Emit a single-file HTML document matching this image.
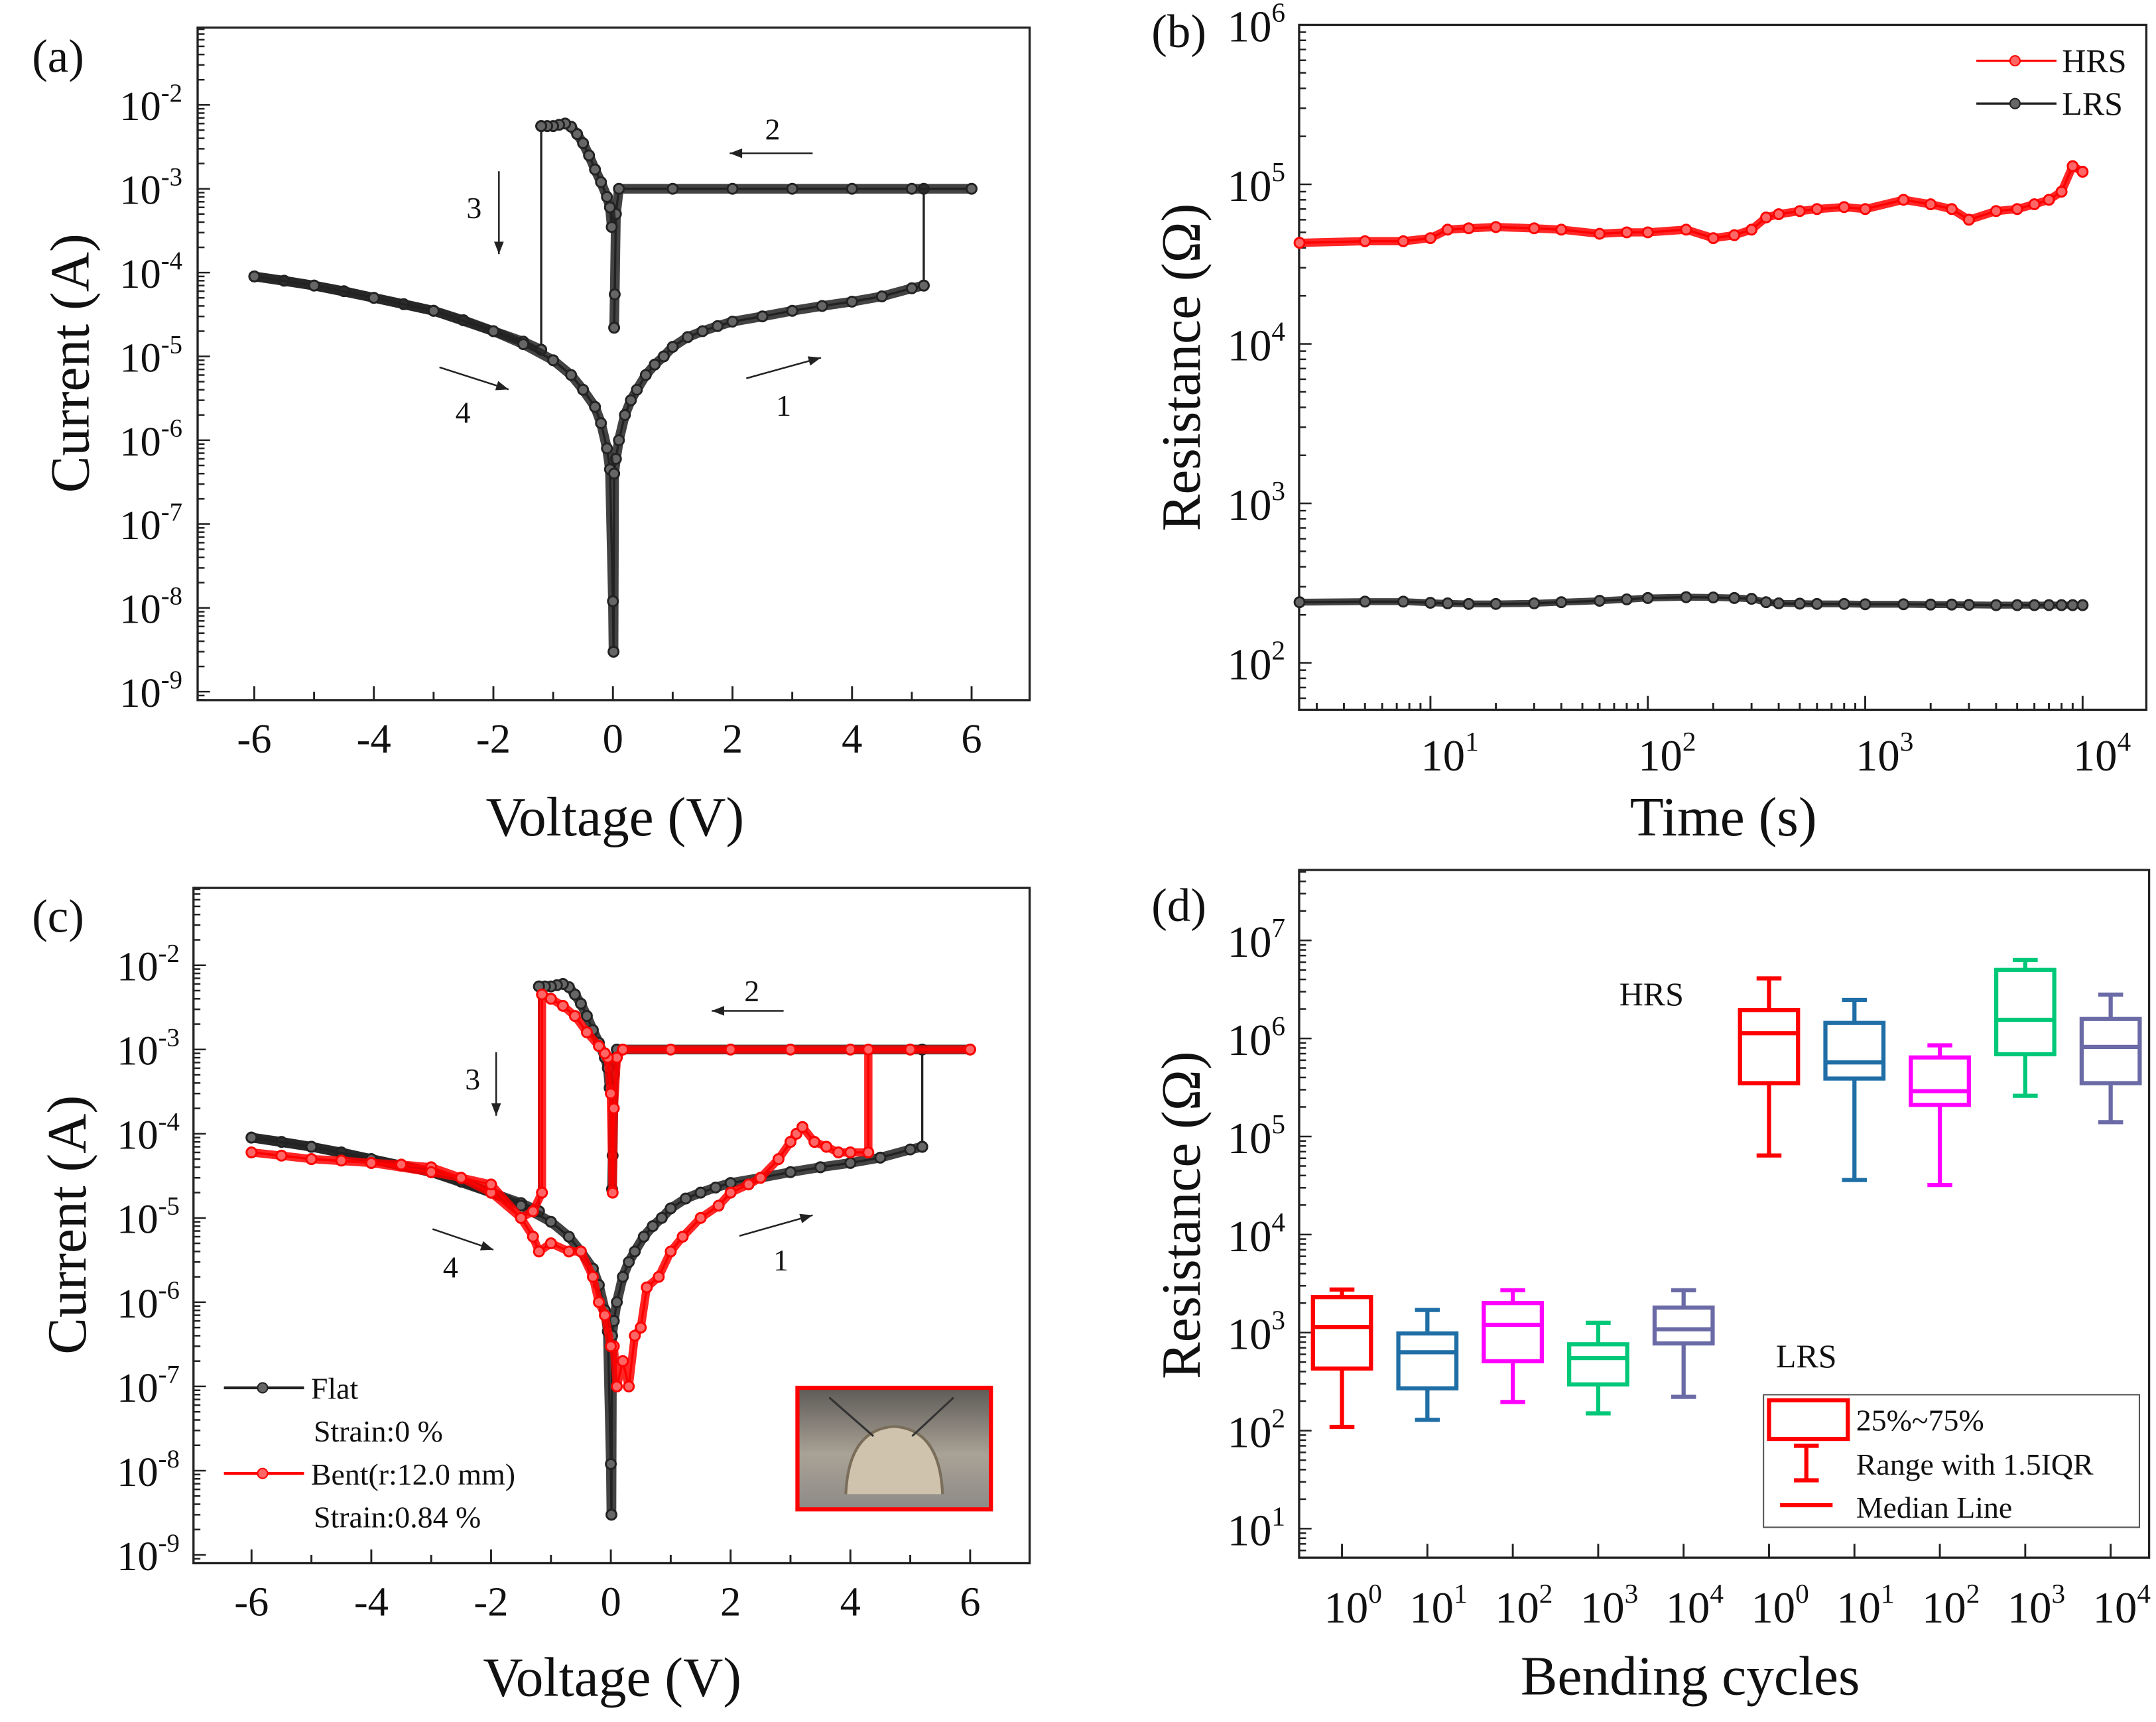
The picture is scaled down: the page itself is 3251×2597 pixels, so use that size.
<!DOCTYPE html>
<html><head><meta charset="utf-8"><style>
html,body{margin:0;padding:0;background:#fff}
svg{display:block}
text{font-family:"Liberation Serif",serif;fill:#111}
</style></head><body>
<svg id="fig" width="3251" height="2597" viewBox="0 0 1560 1247" preserveAspectRatio="none" xmlns="http://www.w3.org/2000/svg">
<rect width="1560" height="1247" fill="#fff"/>
</svg>
<script>
// ---------- Panel (a) data ----------
const aSweep1V=[0.02,0.05,0.1,0.2,0.3,0.4,0.55,0.7,0.85,1,1.25,1.5,1.75,2,2.5,3,3.5,4,4.5,5,5.2];
const aSweep1I=[4e-7,6e-7,1e-6,2e-6,3e-6,4e-6,6e-6,8e-6,1e-5,1.3e-5,1.7e-5,2e-5,2.3e-5,2.6e-5,3e-5,3.5e-5,4e-5,4.5e-5,5.2e-5,6.5e-5,7e-5];
const aSweep2V=[6,5,4,3,2,1,0.1,0.05,0.03,0.02];
const aSweep2I=[1e-3,1e-3,1e-3,1e-3,1e-3,1e-3,1e-3,5e-4,5.5e-5,2.2e-5];
const aNegV=[-0.02,-0.05,-0.1,-0.2,-0.3,-0.4,-0.5,-0.6,-0.7,-0.8,-0.9,-1.0,-1.1,-1.2];
const aNegI=[3.5e-4,6e-4,8e-4,1.2e-3,1.7e-3,2.5e-3,3.5e-3,4.5e-3,5.5e-3,6e-3,5.8e-3,5.6e-3,5.6e-3,5.6e-3];
const aSweep3V=[-1.2,-1.5,-2,-2.5,-3,-3.5,-4,-4.5,-5,-5.5,-6];
const aSweep3I=[1.2e-5,1.5e-5,2e-5,2.7e-5,3.5e-5,4.2e-5,5e-5,6e-5,7e-5,8e-5,9e-5];
const aSweep4V=[-6,-5,-4,-3,-2,-1.5,-1,-0.7,-0.5,-0.3,-0.2,-0.1,-0.05,0,0.01,0.02];
const aSweep4I=[9e-5,7e-5,5e-5,3.5e-5,2e-5,1.4e-5,9e-6,6e-6,4e-6,2.5e-6,1.6e-6,8e-7,4.5e-7,1.2e-8,3e-9,4e-7];
// ---------- Panel (b) data ----------
const bTimes=[2.5,5,7.5,10,12,15,20,30,40,60,80,100,150,200,250,300,350,400,500,600,800,1000,1500,2000,2500,3000,4000,5000,6000,7000,8000,9000,10000];
const bHRS=[4.3e4,4.4e4,4.4e4,4.6e4,5.2e4,5.3e4,5.4e4,5.3e4,5.2e4,4.9e4,5e4,5e4,5.2e4,4.6e4,4.8e4,5.2e4,6.2e4,6.5e4,6.8e4,7e4,7.2e4,7e4,8e4,7.5e4,7e4,6e4,6.8e4,7e4,7.5e4,8e4,9e4,1.3e5,1.2e5];
const bLRS=[240,242,242,238,236,234,234,236,240,245,250,255,258,257,255,252,240,236,235,234,234,233,233,232,232,231,230,230,230,230,230,230,230];
const bYTicks=[2,3,4,5,6];
const bXTicks=[1,2,3,4];
// ---------- Panel (c) data ----------
const cBentV=[0.05,0.1,0.2,0.3,0.4,0.5,0.6,0.8,1,1.2,1.5,1.8,2,2.3,2.5,2.8,3,3.1,3.2,3.4,3.6,3.8,4,4.3,4.3,5,6,5,4,3,2,1,0.2,0.1,0.05,0.03,0.0,-0.05,-0.1,-0.2,-0.4,-0.6,-0.8,-1,-1.15,-1.15,-1.3,-1.5,-2,-2.5,-3,-3.5,-4,-4.5,-5,-5.5,-6,-5,-4,-3,-2.5,-2,-1.5,-1.3,-1.2,-1,-0.7,-0.5,-0.3,-0.2,-0.1,0];
const cBentI=[3e-7,1e-7,2e-7,1e-7,4e-7,5e-7,1.5e-6,2e-6,4e-6,6e-6,1e-5,1.4e-5,2e-5,2.5e-5,3e-5,5e-5,8e-5,1e-4,1.2e-4,8e-5,7e-5,6e-5,6e-5,6e-5,1e-3,1e-3,1e-3,1e-3,1e-3,1e-3,1e-3,1e-3,1e-3,8e-4,2e-4,2e-5,3e-4,8e-4,9e-4,1.1e-3,1.6e-3,2.5e-3,3.3e-3,4e-3,4.5e-3,2e-5,1.2e-5,1e-5,2e-5,3e-5,4e-5,4.3e-5,4.5e-5,4.8e-5,5e-5,5.5e-5,6e-5,5e-5,4.5e-5,3.5e-5,3e-5,2.5e-5,1e-5,6e-6,4e-6,5e-6,4e-6,4e-6,2e-6,1e-6,7e-7,3e-7];
// ---------- Panel (d) data ----------
const dCategories=["0","1","2","3","4","0","1","2","3","4"];
const dWhiskLow=[109,129,196,150,221,6.4e4,3.6e4,3.2e4,2.6e5,1.4e5];
const dQ1=[430,270,510,296,775,3.5e5,3.9e5,2.1e5,6.9e5,3.5e5];
const dMedian=[1140,630,1200,550,1080,1.13e6,5.7e5,2.9e5,1.55e6,8.2e5];
const dQ3=[2300,980,2000,760,1800,1.95e6,1.44e6,6.4e5,5e6,1.58e6];
const dWhiskHigh=[2750,1700,2700,1260,2700,4.1e6,2.47e6,8.5e5,6.3e6,2.8e6];
const dColors=["#ff0000","#1f6ea6","#ff00ff","#00c878","#6a6aa6","#ff0000","#1f6ea6","#ff00ff","#00c878","#6a6aa6"];
const dYTicks=[1,2,3,4,5,6,7];

// ---------- axis functions ----------
const xa=v=>184+(v+6)*43.25, ya=I=>76+(-2-Math.log10(I))*60.7;
const xb=t=>1035+(Math.log10(t)-1)*157.3, yb=R=>480-(Math.log10(R)-2)*115.5;
const xc=v=>182+(v+6)*43.33, yc=I=>699+(-2-Math.log10(I))*61;
const xd=i=>971+i*61.8, yd=R=>1107-(Math.log10(R)-1)*71;

const NS="http://www.w3.org/2000/svg";
const svg=document.getElementById('fig');
function mk(tag,attrs,parent){const e=document.createElementNS(NS,tag);for(const k in attrs)e.setAttribute(k,attrs[k]);(parent||svg).appendChild(e);return e;}
function txt(x,y,s,size,anchor,parent){const t=mk('text',{x:x,y:y,'font-size':size,'text-anchor':anchor||'middle'},parent);t.textContent=s;return t;}
function pow(x,y,base,exp,size,parent,anchor){
  const t=mk('text',{x:x,y:y,'font-size':size,'text-anchor':anchor||'end'},parent);
  const a=mk('tspan',{},t);a.textContent=base;
  const b=mk('tspan',{dy:-size*0.45,'font-size':size*0.62},t);b.textContent=exp;
  return t;
}
function frame(x0,y0,x1,y1,name){
  const r=mk('rect',{x:x0,y:y0,width:x1-x0,height:y1-y0,fill:'none',stroke:'#222','stroke-width':1.6});
  
  
}
function line(x1,y1,x2,y2,col,w,parent){return mk('line',{x1:x1,y1:y1,x2:x2,y2:y2,stroke:col||'#222','stroke-width':w||1.4},parent);}
function arrow(x1,y1,x2,y2){
  line(x1,y1,x2,y2,'#222',1.2);
  const a=Math.atan2(y2-y1,x2-x1),L=9,W=3.5;
  mk('polygon',{points:`${x2},${y2} ${x2-L*Math.cos(a)+W*Math.sin(a)},${y2-L*Math.sin(a)-W*Math.cos(a)} ${x2-L*Math.cos(a)-W*Math.sin(a)},${y2-L*Math.sin(a)+W*Math.cos(a)}`,fill:'#222'});
}
function series(V,I,fx,fy,col,name,thick){
  const g=mk('g',{});
  
  
  const pts=V.map((v,i)=>fx(v)+','+fy(I[i])).join(' ');
  if(thick) mk('polyline',{points:pts,fill:'none',stroke:col,'stroke-width':thick,'stroke-linejoin':'round','stroke-opacity':0.85},g);
  mk('polyline',{points:pts,fill:'none',stroke:col,'stroke-width':1.6},g);
  V.forEach((v,i)=>mk('circle',{cx:fx(v),cy:fy(I[i]),r:3.6,fill:col==='#222'?'#666':'#f66',stroke:col,'stroke-width':1.4},g));
  return g;
}
function logYTicks(fy,decLo,decHi,x0,ymin,ymax){
  for(let d=decLo;d<=decHi;d++){
    for(let m=1;m<10;m++){
      const y=fy(m*Math.pow(10,d));
      if(y<ymin||y>ymax)continue;
      line(x0,y,x0+(m===1?9:5),y,'#222',1.2);
    }
  }
}
function ivLoop(fx,fy,prefix){
  series(aSweep1V,aSweep1I,fx,fy,'#222',prefix+'-sweep-1',7);
  series([5.2,5.2],[7e-5,1e-3],fx,fy,'#222',prefix+'-set-jump',0);
  series(aSweep2V,aSweep2I,fx,fy,'#222',prefix+'-sweep-2',7);
  series(aNegV,aNegI,fx,fy,'#222',prefix+'-negative-lrs',7);
  series([-1.2,-1.2],[5.6e-3,1.2e-5],fx,fy,'#222',prefix+'-reset-drop',0);
  series(aSweep3V,aSweep3I,fx,fy,'#222',prefix+'-sweep-3',7);
  series(aSweep4V,aSweep4I,fx,fy,'#222',prefix+'-sweep-4',7);
}

// ================= Panel (a) =================
frame(143,20,745,507,'panel-a-frame');
logYTicks(ya,-10,-1,143,20,507);
for(let v=-6;v<=6;v++){line(xa(v),507,xa(v),507-(v%2===0?10:6));}
for(let v=-6;v<=6;v+=2){const t=txt(xa(v),545,String(v),30);}
for(let e=-2;e>=-9;e--){const t=pow(132,ya(Math.pow(10,e))+11,'10',String(e),30);}
ivLoop(xa,ya,'a');
arrow(588,111,528,111);txt(559,101,'2',22);
arrow(361,124,361,184);txt(343,158,'3',22);
arrow(318,266,368,282);txt(335,306,'4',22);
arrow(540,274,594,259);txt(567,301,'1',22);
let t;
t=txt(42,52,'(a)',34);
t=txt(445,605,'Voltage (V)',40);
t=txt(0,0,'Current (A)',40);t.setAttribute('transform','translate(64,263) rotate(-90)');

// ================= Panel (b) =================
frame(940,18,1553,514,'panel-b-frame');
for(let d=0;d<=4;d++)for(let m=1;m<10;m++){const x=xb(m*Math.pow(10,d));if(x<940||x>1553)continue;line(x,514,x,514-(m===1?10:5));}
logYTicks(yb,1,6,940,18,514);
bXTicks.forEach(e=>{const t=pow(xb(Math.pow(10,e))+14,558,'10',String(e),32,null,'middle');});
bYTicks.forEach(e=>{if(e===6)return;const t=pow(930,yb(Math.pow(10,e))+12,'10',String(e),32);});
t=pow(930,30,'10','6',32);
series(bTimes,bHRS,xb,yb,'#ff0000','b-hrs-series',6);
series(bTimes,bLRS,xb,yb,'#222','b-lrs-series',5);
{const g=mk('g',{});
line(1430,44,1488,44,'#ff0000',1.6,g);mk('circle',{cx:1458,cy:44,r:3.6,fill:'#f66',stroke:'#f00'},g);txt(1492,52,'HRS',24,'start',g);
line(1430,75,1488,75,'#222',1.6,g);mk('circle',{cx:1458,cy:75,r:3.6,fill:'#666',stroke:'#222'},g);txt(1492,83,'LRS',24,'start',g);}
t=txt(853,34,'(b)',34);
t=txt(1247,605,'Time (s)',40);
t=txt(0,0,'Resistance (Ω)',40);t.setAttribute('transform','translate(868,266) rotate(-90)');

// ================= Panel (c) =================
frame(140,643,745,1132,'panel-c-frame');
logYTicks(yc,-10,-1,140,643,1132);
for(let v=-6;v<=6;v++){line(xc(v),1132,xc(v),1132-(v%2===0?10:6));}
for(let v=-6;v<=6;v+=2){const t=txt(xc(v),1170,String(v),30);}
for(let e=-2;e>=-9;e--){const t=pow(130,yc(Math.pow(10,e))+11,'10',String(e),30);}
ivLoop(xc,yc,'c-flat');
series(cBentV,cBentI,xc,yc,'#ff0000','c-bent-series',6);
arrow(567,732,515,732);txt(544,725,'2',22);
arrow(359,762,359,808);txt(342,789,'3',22);
arrow(313,890,357,905);txt(326,925,'4',22);
arrow(535,895,588,880);txt(565,920,'1',22);
{const g=mk('g',{});
line(162,1005,220,1005,'#222',2,g);mk('circle',{cx:190,cy:1005,r:3.6,fill:'#666',stroke:'#222'},g);txt(225,1013,'Flat',22,'start',g);txt(227,1044,'Strain:0 %',22,'start',g);
line(162,1067,220,1067,'#f00',2,g);mk('circle',{cx:190,cy:1067,r:3.6,fill:'#f66',stroke:'#f00'},g);txt(225,1075,'Bent(r:12.0 mm)',22,'start',g);txt(227,1106,'Strain:0.84 %',22,'start',g);}
{const g=mk('g',{});
const gr=mk('linearGradient',{id:'ph',x1:0,y1:0,x2:0,y2:1},mk('defs',{},g));
mk('stop',{offset:'0','stop-color':'#5d5a56'},gr);mk('stop',{offset:'0.55','stop-color':'#a9a296'},gr);mk('stop',{offset:'1','stop-color':'#8d8a86'},gr);
mk('rect',{x:577,y:1005,width:140,height:88,fill:'url(#ph)',stroke:'#f00','stroke-width':3},g);
mk('path',{d:'M612,1082 Q614,1035 647,1033 Q680,1035 682,1082',fill:'#cfc3ad',stroke:'#7a6e5a','stroke-width':2},g);
line(600,1012,632,1040,'#333',1.5,g);line(690,1012,660,1040,'#333',1.5,g);}
t=txt(42,675,'(c)',34);
t=txt(443,1228,'Voltage (V)',40);
t=txt(0,0,'Current (A)',40);t.setAttribute('transform','translate(62,887) rotate(-90)');

// ================= Panel (d) =================
frame(940,630,1555,1128,'panel-d-frame');
logYTicks(yd,0,7,940,630,1128);
dCategories.forEach((c,i)=>{line(xd(i),1128,xd(i),1118);const t=pow(xd(i)+8,1175,'10',c,32,null,'middle');});
dYTicks.forEach(e=>{const t=pow(930,yd(Math.pow(10,e))+12,'10',String(e),32);});
dCategories.forEach((c,i)=>{
  const g=mk('g',{});
  
  
  const x=xd(i),col=dColors[i],w=3;
  line(x,yd(dWhiskLow[i]),x,yd(dQ1[i]),col,w,g);
  line(x,yd(dQ3[i]),x,yd(dWhiskHigh[i]),col,w,g);
  line(x-9,yd(dWhiskLow[i]),x+9,yd(dWhiskLow[i]),col,w,g);
  line(x-9,yd(dWhiskHigh[i]),x+9,yd(dWhiskHigh[i]),col,w,g);
  mk('rect',{x:x-21,y:yd(dQ3[i]),width:42,height:yd(dQ1[i])-yd(dQ3[i]),fill:'none',stroke:col,'stroke-width':w},g);
  line(x-21,yd(dMedian[i]),x+21,yd(dMedian[i]),col,w,g);
});
t=txt(1195,728,'HRS',24);
t=txt(1307,990,'LRS',24);
{const g=mk('g',{});
mk('rect',{x:1276,y:1010,width:272,height:96,fill:'#fff',stroke:'#555','stroke-width':1},g);
mk('rect',{x:1280,y:1014,width:57,height:28,fill:'none',stroke:'#f00','stroke-width':3},g);
line(1307,1047,1307,1072,'#f00',3,g);line(1298,1047,1316,1047,'#f00',3,g);line(1298,1072,1316,1072,'#f00',3,g);
line(1288,1090,1326,1090,'#f00',3,g);
txt(1343,1036,'25%~75%',22,'start',g);txt(1343,1068,'Range with 1.5IQR',22,'start',g);txt(1343,1099,'Median Line',22,'start',g);}
t=txt(853,667,'(d)',34);
t=txt(1223,1227,'Bending cycles',40);
t=txt(0,0,'Resistance (Ω)',40);t.setAttribute('transform','translate(868,880) rotate(-90)');
</script>
</body></html>
